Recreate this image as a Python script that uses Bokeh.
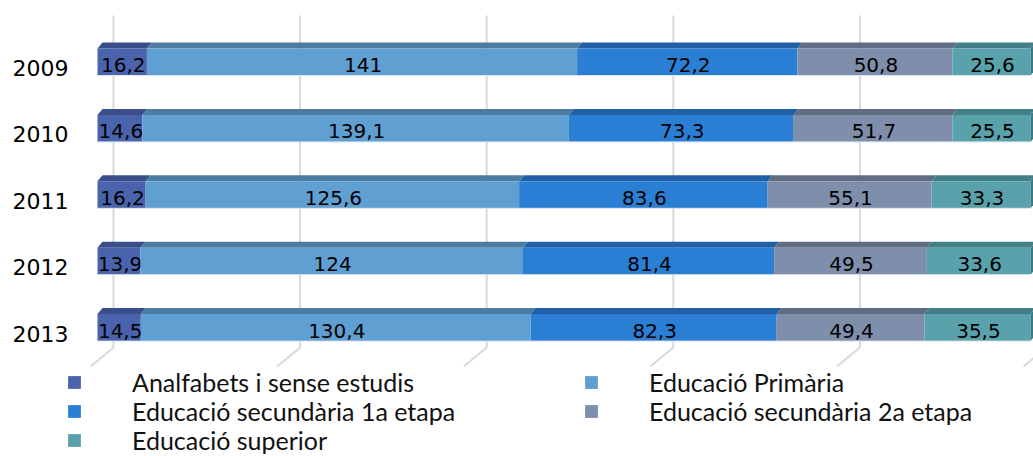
import numpy as np
from bokeh.plotting import figure
from bokeh.models import Range1d, Legend, LegendItem, ColumnDataSource
from bokeh.core.properties import value
from bokeh.embed import file_html
from bokeh.resources import INLINE

# ---------------- data ----------------
years = ["2009", "2010", "2011", "2012", "2013"]
series_names = ["Analfabets i sense estudis", "Educació Primària",
                "Educació secundària 1a etapa", "Educació secundària 2a etapa",
                "Educació superior"]
analfabets = [16.2, 14.6, 16.2, 13.9, 14.5]
primaria = [141.0, 139.1, 125.6, 124.0, 130.4]
secundaria1 = [72.2, 73.3, 83.6, 81.4, 82.3]
secundaria2 = [50.8, 51.7, 55.1, 49.5, 49.4]
superior = [25.6, 25.5, 33.3, 33.6, 35.5]
grid_ticks = [0, 20, 40, 60, 80, 100]

front_colors = ["#4a63ad", "#609fd2", "#2a7fd5", "#7f8eaa", "#5aa2ab"]
top_colors = ["#3a4e8a", "#4d7ca3", "#2160a6", "#606c82", "#427f86"]
side_color = "#3d7a80"

# ---------------- layout constants (pixels) ----------------
W, H = 1033, 456
XPX = 9.33      # px per percent
X0PX = 97       # px from frame left to 0 %
YPX = 66.4      # px per category step
Y0PX = 61.5     # px from frame top to first bar centre
HALF = 13.5     # half height of bar front
DEPTH_X, DEPTH_Y = 5, 6

x_start = -X0PX / XPX
x_end = x_start + W / XPX
y_end = -Y0PX / YPX
y_start = y_end + H / YPX

def dx(px):
    return px / XPX

def dy(px):
    return px / YPX

def sx(screen_x):
    return x_start + screen_x / XPX

def sy(screen_y):
    return y_end + screen_y / YPX

p = figure(width=W, height=H, x_range=Range1d(x_start, x_end),
           y_range=Range1d(y_start, y_end), output_backend="svg",
           toolbar_location=None, min_border=0,
           x_axis_location=None, y_axis_location=None)
p.grid.visible = False
p.outline_line_color = None
p.background_fill_color = "white"

# ---------------- gridlines (3D back wall + floor) ----------------
gxs, gys = [], []
for t in grid_ticks:
    gxs.append([t + dx(16), t + dx(16), t - dx(7)])
    gys.append([sy(15), sy(347), sy(366)])
p.multi_line(gxs, gys, line_color="#d9d9d9", line_width=2)

# ---------------- bars ----------------
vals = np.array([analfabets, primaria, secundaria1, secundaria2, superior])
totals = vals.sum(axis=0)
pct = vals / totals * 100
cum = np.vstack([np.zeros(len(years)), np.cumsum(pct, axis=0)])
idx = np.arange(len(years))

h = dy(HALF)
ddx, ddy = dx(DEPTH_X), dy(DEPTH_Y)

front_renderers = []
for k in range(len(series_names)):
    left = cum[k]
    right = cum[k + 1]
    pxs, pys = [], []
    for i in idx:
        pxs.append([left[i], right[i], right[i] + ddx, left[i] + ddx])
        pys.append([i - h, i - h, i - h - ddy, i - h - ddy])
    p.patches(pxs, pys, fill_color=top_colors[k], line_color=None)
    src = ColumnDataSource(dict(left=left, right=right, top=idx - h, bottom=idx + h))
    r = p.quad(left="left", right="right", top="top", bottom="bottom", source=src,
               fill_color=front_colors[k], line_color=None)
    front_renderers.append(r)
    lab = [("%g" % v).replace(".", ",") for v in vals[k]]
    lsrc = ColumnDataSource(dict(x=(left + right) / 2 + dx(1), y=idx + dy(3), t=lab))
    p.text(x="x", y="y", text="t", source=lsrc, text_align="center",
           text_baseline="middle", text_font=value("DejaVu Sans"),
           text_font_size="20px", text_color="#000000")

# right side face of the last segment
sxs, sys_ = [], []
for i in idx:
    r_ = cum[-1][i]
    sxs.append([r_, r_ + ddx, r_ + ddx, r_])
    sys_.append([i - h, i - h - ddy, i + h - ddy, i + h])
p.patches(sxs, sys_, fill_color=side_color, line_color=None)

# thin light bottom edge
p.segment(x0=cum[0], y0=idx + h, x1=cum[-1], y1=idx + h, line_color="#dde5ee", line_width=1)

# ---------------- year labels ----------------
ysrc = ColumnDataSource(dict(x=[sx(68)] * len(years), y=idx + dy(6), t=years))
p.text(x="x", y="y", text="t", source=ysrc, text_align="right", text_baseline="middle",
       text_font=value("DejaVu Sans"), text_font_size="22px",
       text_color="#000000")

# ---------------- legend (one row per Legend, two columns) ----------------
legend_rows = [[0, 1], [2, 3], [4]]
row_offsets = [59, 30, 1]   # px above frame bottom
for row, off in zip(legend_rows, row_offsets):
    items = [LegendItem(label=series_names[k], renderers=[front_renderers[k]]) for k in row]
    legend = Legend(items=items, location=(66, off), orientation="horizontal",
                    glyph_width=16, glyph_height=16, label_standoff=50, label_width=451,
                    label_height=29, spacing=0, padding=0, margin=0,
                    border_line_alpha=0, background_fill_alpha=0,
                    label_text_font="Lato", label_text_font_size="25px",
                    label_text_line_height=0.9,
                    label_text_color="#111111")
    p.add_layout(legend, "center")

open("out.html", "w").write(file_html(p, INLINE))
